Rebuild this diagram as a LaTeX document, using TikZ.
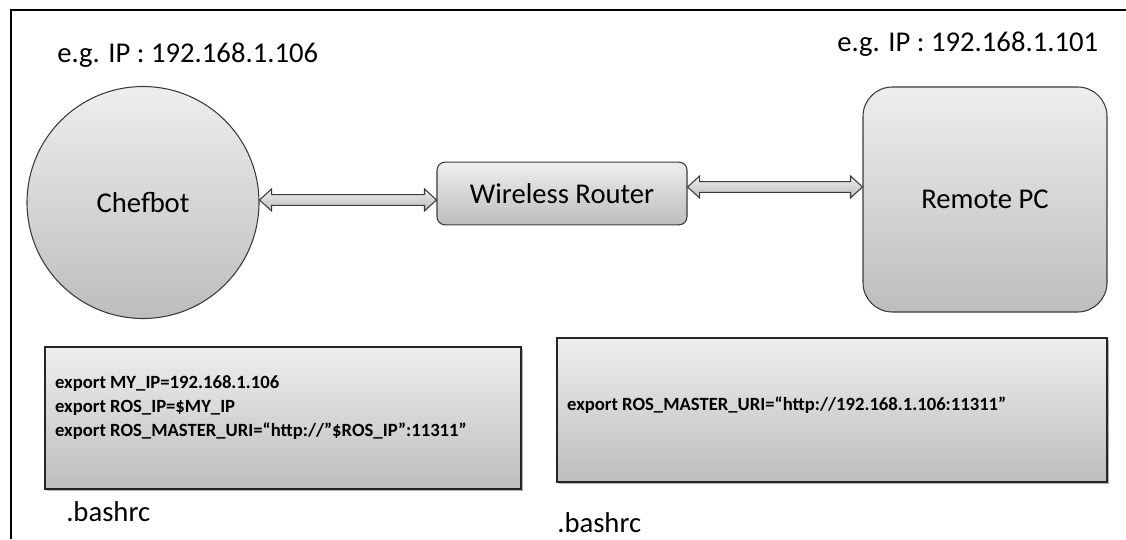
\documentclass[tikz,border=0pt]{standalone}
\usepackage{fontspec}
\setmainfont{Carlito}
\usetikzlibrary{calc, shadows}

\definecolor{shadetop}{HTML}{EEEEEE}
\definecolor{shadebot}{HTML}{BDBDBD}
\definecolor{edge}{HTML}{3A3A3A}

\begin{document}
\begin{tikzpicture}[x=0.75pt, y=-0.75pt,
  font=\fontsize{21.5}{26}\selectfont,
  shaded/.style={top color=shadetop, bottom color=shadebot, draw=edge},
  host/.style={shaded, line width=0.8pt, inner sep=0pt},
  codebox/.style={shaded, draw=black!85, line width=1.2pt, inner sep=0pt,
                  drop shadow={shadow xshift=1.5pt, shadow yshift=-1.5pt, fill=black, opacity=0.3}},
  code/.style={font=\bfseries\fontsize{14}{18}\selectfont, align=left, anchor=west, inner sep=0pt},
  tag/.style={anchor=base west, inner sep=0pt},
  blockarrow/.style={shaded, line width=0.8pt,
    to path={let \p1=(\tikztostart), \p2=(\tikztotarget) in
      (\x1,\y1) -- (\x1+9pt,\y1+8.25pt) -- (\x1+9pt,\y1+4pt) -- (\x2-9pt,\y1+4pt)
      -- (\x2-9pt,\y1+8.25pt) -- (\x2,\y1) -- (\x2-9pt,\y1-8.25pt) -- (\x2-9pt,\y1-4pt)
      -- (\x1+9pt,\y1-4pt) -- (\x1+9pt,\y1-8.25pt) -- cycle}}
]
  \useasboundingbox (0,0) rectangle (1126,539);
  \draw[line width=1.9pt] (11,539) -- (11,10) -- (1126,10);

  % the three machines
  \node[host, circle, minimum size=174pt] (chef) at (143,202.5) {Chefbot};
  \node[host, rounded corners=6pt, minimum width=187.5pt, minimum height=47pt] (router) at (562,193.5) {Wireless Router};
  \node[host, rounded corners=22pt, minimum width=183pt, minimum height=168.75pt] (pc) at (985,199.5) {Remote PC};

  \node[tag] (ipchef) at (57,62) {e.g. IP : 192.168.1.106};
  \node[tag] (ippc) at (837,51) {e.g. IP : 192.168.1.101};

  \draw[blockarrow] ([yshift=1.9pt]chef.east) to (router.west);
  \draw[blockarrow] ([yshift=4.9pt]router.east) to (pc.west);

  % .bashrc settings
  \node[codebox, minimum width=357pt, minimum height=106.5pt] (cfgchef) at (283,418) {};
  \node[code] (cfgchefcode) at ([xshift=8pt, yshift=8pt]cfgchef.west)
    {export MY\_IP=192.168.1.106\\export ROS\_IP=\$MY\_IP\\export ROS\_MASTER\_URI=“http://”\$ROS\_IP”:11311”};
  \node[tag] (rcchef) at (66,521) {.bashrc};

  \node[codebox, minimum width=412.5pt, minimum height=108pt] (cfgpc) at (832,410) {};
  \node[code] (cfgpccode) at ([xshift=8pt, yshift=4pt]cfgpc.west)
    {export ROS\_MASTER\_URI=“http://192.168.1.106:11311”};
  \node[tag] (rcpc) at (557,532) {.bashrc};
\end{tikzpicture}
\end{document}
